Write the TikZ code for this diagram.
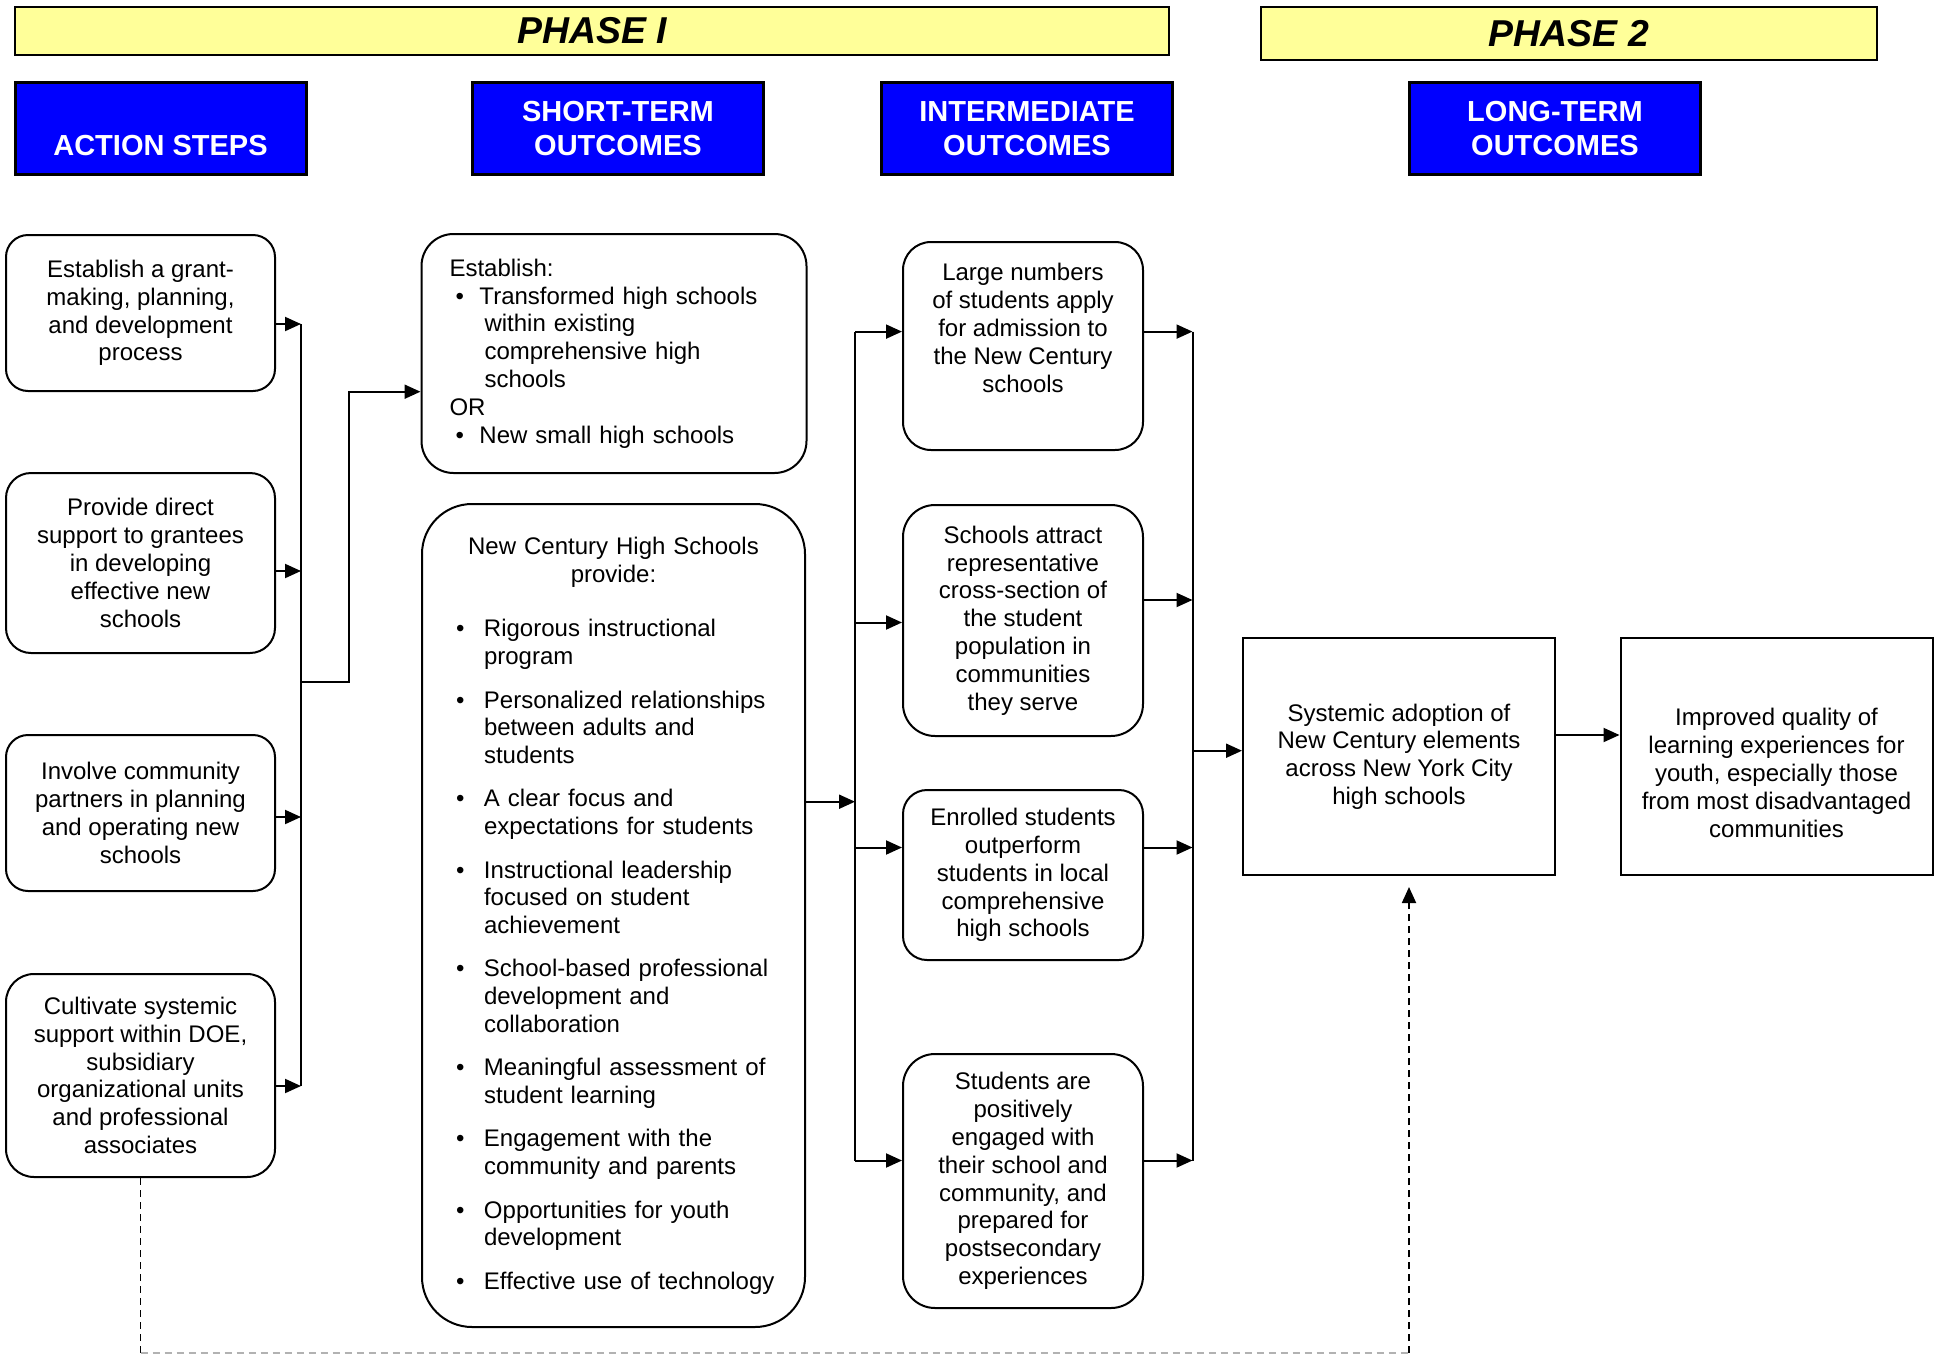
\documentclass[tikz,border=0pt]{standalone}
\usepackage{fontspec}
\setmainfont{Liberation Sans}
\usetikzlibrary{arrows.meta,positioning,calc}
\definecolor{phaseyellow}{RGB}{255,255,153}
\definecolor{hdrblue}{RGB}{0,0,255}
\newcommand{\bodyfont}{\fontsize{12}{13.9}\selectfont}
\newcommand{\stbul}{\makebox[15pt][l]{\hspace{3pt}\textbullet}}
\newcommand{\stind}{\hspace*{17.5pt}}
\newcommand{\ncitem}[1]{\par\vspace{7.75pt}\noindent\hangindent=21pt\hangafter=1
  \makebox[21pt][l]{\hspace{7pt}\textbullet}#1\par}
\tikzset{>={Triangle[length=8pt,width=7pt]},
  arrow/.style={->,line width=1pt},
  bus/.style={line width=1pt},
  fb/.style={line width=0.9pt,dash pattern=on 3.5pt off 2.5pt},
  phase/.style={draw,line width=1.3pt,fill=phaseyellow,
    font=\fontsize{18.7}{22}\selectfont\bfseries\itshape},
  hdr/.style={draw,line width=1.5pt,fill=hdrblue,text=white,align=center,
    minimum width=145.5pt,minimum height=46pt,
    font=\fontsize{14.5}{17}\selectfont\bfseries},
  abox/.style={draw,line width=1pt,align=center,minimum width=134.5pt,font=\bodyfont},
  sbox/.style={draw,line width=1pt,minimum width=192pt,font=\bodyfont},
  ibox/.style={draw,line width=1pt,align=center,minimum width=120pt,font=\bodyfont},
  lbox/.style={draw,line width=1pt,align=center,minimum width=156pt,
    minimum height=118.5pt,font=\bodyfont},
  txt/.style={align=center,font=\bodyfont},
}

\begin{document}
\begin{tikzpicture}[x=0.5pt,y=-0.5pt]
    \useasboundingbox (0,0) rectangle (1940,1355);

    % phases and column heads
    \node[phase, minimum width=577pt, minimum height=24pt] (ph1) at (592,31) {PHASE I};
    \node[phase, minimum width=308pt, minimum height=26.5pt] (ph2) at (1569,33.5) {PHASE 2};
    \node[hdr] (hact) at (160.5,128.5) {\vphantom{OUTCOMES}\\ACTION STEPS};
    \node[hdr] (hshort) at (618,128.5) {SHORT-TERM\\OUTCOMES};
    \node[hdr] (hinter) at (1027,128.5) {INTERMEDIATE\\OUTCOMES};
    \node[hdr] (hlong) at (1555,128.5) {LONG-TERM\\OUTCOMES};

    % action steps
    \node[abox, rounded corners=11pt, minimum height=78pt] (a1) at (140.5,313)
        {Establish a grant-\\making, planning,\\and development\\process};
    \node[abox, rounded corners=12.5pt, minimum height=90pt] (a2) at (140.5,563)
        {Provide direct\\support to grantees\\in developing\\effective new\\schools};
    \node[abox, rounded corners=11pt, minimum height=78pt] (a3) at (140.5,813)
        {Involve community\\partners in planning\\and operating new\\schools};
    \node[abox, rounded corners=14pt, minimum height=101.5pt] (a4) at (140.5,1075.5)
        {Cultivate systemic\\support within DOE,\\subsidiary\\organizational units\\and professional\\associates};

    % short-term outcomes
    \node[sbox, rounded corners=16pt, minimum height=119.5pt, text width=164.5pt,
        inner xsep=14pt, align=left] (s1) at (614,353.5)
        {Establish:\\ \stbul Transformed high schools\\ \stind within existing\\
         \stind comprehensive high\\ \stind schools\\ OR\\ \stbul New small high schools};
    \node[sbox, rounded corners=25pt, minimum width=191.5pt, minimum height=411.5pt,
        text width=171.5pt, inner xsep=10pt] (nc) at (613.5,915.5)
        {{\centering New Century High Schools\\provide:\par}\vspace{5.75pt}
         \ncitem{Rigorous instructional\newline program}
         \ncitem{Personalized relationships\newline between adults and\newline students}
         \ncitem{A clear focus and\newline expectations for students}
         \ncitem{Instructional leadership\newline focused on student\newline achievement}
         \ncitem{School-based professional\newline development and\newline collaboration}
         \ncitem{Meaningful assessment of\newline student learning}
         \ncitem{Engagement with the\newline community and parents}
         \ncitem{Opportunities for youth\newline development}
         \ncitem{Effective use of technology}};

    % intermediate outcomes
    \node[ibox, rounded corners=14pt, minimum height=104pt] (i1) at (1023,346) {};
    \node[txt] (i1t) at ([yshift=9pt]i1.center)
        {Large numbers\\of students apply\\for admission to\\the New Century\\schools};
    \node[ibox, rounded corners=16pt, minimum height=115.5pt] (i2) at (1023,620.5)
        {Schools attract\\representative\\cross-section of\\the student\\population in\\communities\\they serve};
    \node[ibox, rounded corners=12pt, minimum height=85pt] (i3) at (1023,875)
        {Enrolled students\\outperform\\students in local\\comprehensive\\high schools};
    \node[ibox, rounded corners=16pt, minimum height=127pt] (i4) at (1023,1181)
        {Students are\\positively\\engaged with\\their school and\\community, and\\prepared for\\postsecondary\\experiences};

    % long-term outcomes
    \node[lbox] (sys) at (1399,756.5)
        {Systemic adoption of\\New Century elements\\across New York City\\high schools};
    \node[lbox] (imp) at (1776.5,756.5) {};
    \node[txt] (impt) at ([yshift=-8.25pt]imp.center)
        {Improved quality of\\learning experiences for\\youth, especially those\\from most disadvantaged\\communities};

    % buses
    \coordinate (busA) at (301,682);
    \coordinate (turn) at (349,682);
    \coordinate (busC) at (855,0);
    \coordinate (busD) at (1192.5,0);
    \coordinate (low) at (0,1353);
    \coordinate (fbr) at (1409,1353);

    \foreach \n/\dy in {a1/-5.5,a2/-4,a3/-2,a4/-5.25}
        \draw[arrow] ([yshift=\dy pt]\n.east) -- ([yshift=\dy pt]\n.east -| busA);
    \draw[bus] ([yshift=-5.5pt]a1.east -| busA) -- ([yshift=-5.25pt]a4.east -| busA);
    \draw[arrow] (busA) -- (turn) |- ([yshift=-19.1pt]s1.west);

    \draw[arrow] ([yshift=56.9pt]nc.east) -- ([yshift=56.9pt]nc.east -| busC);
    \draw[bus] ([yshift=7.2pt]i1.west -| busC) -- ([yshift=10.25pt]i4.west -| busC);
    \foreach \n/\dy in {i1/7.2,i2/-1,i3/13.75,i4/10.25}
        \draw[arrow] ([yshift=\dy pt]\n.west -| busC) -- ([yshift=\dy pt]\n.west);
    \foreach \n/\dy in {i1/7.2,i2/10.25,i3/13.75,i4/10.25}
        \draw[arrow] ([yshift=\dy pt]\n.east) -- ([yshift=\dy pt]\n.east -| busD);
    \draw[bus] ([yshift=7.2pt]i1.east -| busD) -- ([yshift=10.25pt]i4.east -| busD);
    \draw[arrow] ([yshift=2.9pt]sys.west -| busD) -- ([yshift=2.9pt]sys.west);
    \draw[arrow] ([yshift=10.75pt]sys.east) -- ([yshift=10.75pt]sys.east -| imp.west);

    % feedback from systemic support
    \draw[fb] (a4.south) -- (a4.south |- low);
    \draw[fb, black!30] (a4.south |- low) -- (fbr);
    \draw[fb, ->, shorten >=5.5pt] (fbr) -- (fbr |- sys.south);
\end{tikzpicture}
\end{document}
